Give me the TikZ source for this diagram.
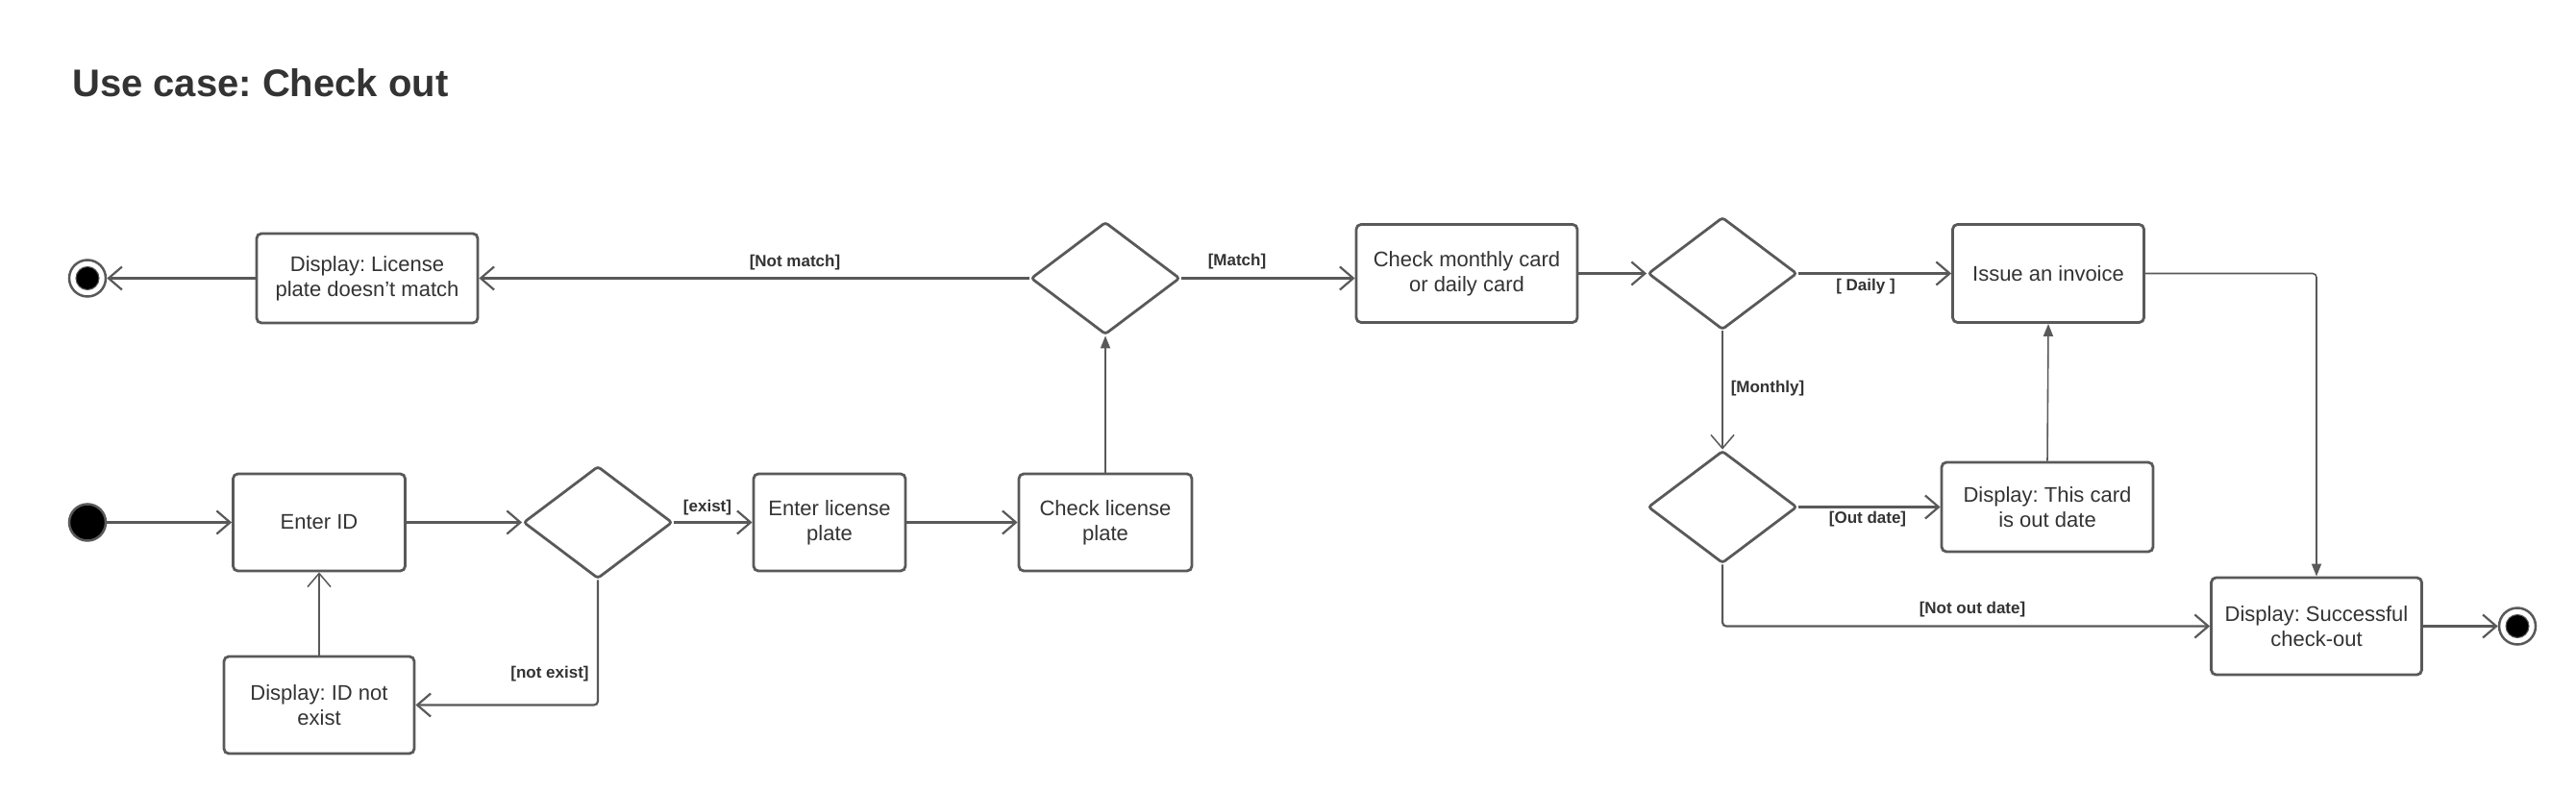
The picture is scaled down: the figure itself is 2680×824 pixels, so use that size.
\documentclass[tikz,border=0pt]{standalone}
\usepackage{fontspec}
\setmainfont{Liberation Sans}
\usetikzlibrary{arrows.meta,shapes.geometric}
\definecolor{ln}{RGB}{89,89,89}
\definecolor{tx}{RGB}{51,51,51}
\frenchspacing
\begin{document}
\begin{tikzpicture}[x=1pt,y=-1pt,
 act/.style={draw=ln, line width=2.8pt, rounded corners=5pt, fill=white, align=center, text=tx, font=\fontsize{22}{26}\selectfont, inner sep=0pt},
 dec/.style={diamond, draw=ln, line width=2.8pt, rounded corners=3pt, minimum width=155pt, minimum height=117pt, inner sep=0pt},
 flow/.style={draw=ln, line width=2.2pt, -{Straight Barb[length=14pt,width=24pt]}, rounded corners=4pt},
 thinflow/.style={draw=ln, line width=1.5pt, -{Straight Barb[length=14pt,width=24pt]}},
 fillflow/.style={draw=ln, line width=1.6pt, -{Triangle[length=13pt,width=10pt]}, rounded corners=4pt},
 guard/.style={font=\bfseries\fontsize{17}{20}\selectfont, text=tx, inner sep=0pt},
 startnode/.style={circle, fill=black, draw=ln, line width=2.5pt, minimum size=38pt, inner sep=0pt},
 endring/.style={circle, fill=white, draw=ln, line width=2.5pt, minimum size=38pt, inner sep=0pt},
 enddot/.style={circle, fill=black, draw=ln, line width=1pt, minimum size=24pt, inner sep=0pt}
]
\useasboundingbox (0,0) rectangle (2680,824);

\node[anchor=base west, font=\bfseries\fontsize{40}{48}\selectfont, text=tx, inner sep=0pt] (title) at (75,101) {Use case: Check out};

% top row
\node[endring] (end1) at (91,289.5) {};
\node[enddot] (end1i) at (91,289.5) {};
\node[act, minimum width=230pt, minimum height=93pt] (dlic) at (382,289.5) {Display: License\\plate doesn't match};
\node[dec] (d1) at (1150,289.5) {};
\node[act, minimum width=230pt, minimum height=102pt] (cm) at (1526,284.5) {Check monthly card\\or daily card};
\node[dec] (d3) at (1792,284.5) {};
\node[act, minimum width=199pt, minimum height=102pt] (inv) at (2131,284.5) {Issue an invoice};

% bottom row
\node[startnode] (start) at (91,543.5) {};
\node[act, minimum width=179pt, minimum height=101pt] (enterid) at (332,543.5) {Enter ID};
\node[dec] (d2) at (622,543.5) {};
\node[act, minimum width=158pt, minimum height=101pt] (elp) at (863,543.5) {Enter license\\plate};
\node[act, minimum width=180pt, minimum height=101pt] (clp) at (1150,543.5) {Check license\\plate};
\node[act, minimum width=198pt, minimum height=101pt] (dnot) at (332,733.5) {Display: ID not\\exist};

\node[dec] (d4) at (1792,527.5) {};
\node[act, minimum width=220pt, minimum height=93pt] (oud) at (2130,527.5) {Display: This card\\is out date};
\node[act, minimum width=219pt, minimum height=101pt] (succ) at (2410,651.5) {Display: Successful\\check-out};
\node[endring] (end2) at (2619,651.5) {};
\node[enddot] (end2i) at (2619,651.5) {};

% connectors
\draw[flow] (start) -- (enterid);
\draw[flow] (enterid) -- (d2);
\draw[flow] (d2.east) -- (elp.west);
\draw[flow] (d2.south) |- (dnot.east);
\draw[thinflow] (dnot.north) -- (enterid.south);
\draw[flow] (elp) -- (clp);
\draw[fillflow] (clp.north) -- (d1.south);
\draw[flow] (d1.west) -- (dlic.east);
\draw[flow] (dlic.west) -- (end1);
\draw[flow] (d1.east) -- (d1.east -| cm.west);
\draw[flow] (cm.east) -- (d3.west);
\draw[flow] (d3.east) -- (inv.west);
\draw[thinflow] (d3.south) -- (d4.north);
\draw[flow] (d4.east) -- (oud.west);
\draw[fillflow] (oud.north) -- (inv.south);
\draw[fillflow] (inv.east) -| (succ.north);
\draw[flow] (d4.south) |- (succ.west);
\draw[flow] (succ.east) -- (end2);

% guards
\node[guard] (gnm) at (827,273) {[Not match]};
\node[guard] (gm) at (1287,272) {[Match]};
\node[guard] (gex) at (736,528) {[exist]};
\node[guard] (gnex) at (572,701) {[not exist]};
\node[guard] (gd) at (1941,298) {[ Daily ]};
\node[guard] (gmo) at (1839,404) {[Monthly]};
\node[guard] (god) at (1943,540) {[Out date]};
\node[guard] (gnod) at (2052,634) {[Not out date]};
\end{tikzpicture}
\end{document}
